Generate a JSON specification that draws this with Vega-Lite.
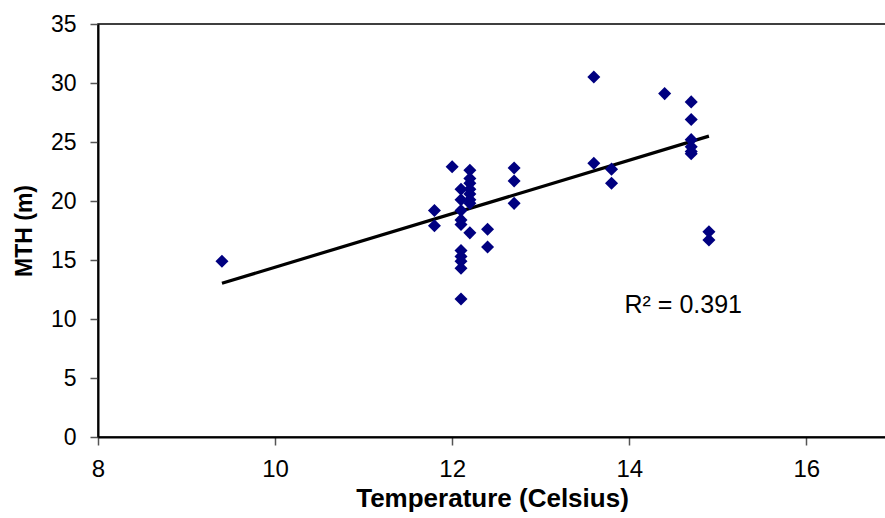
{
  "$schema": "https://vega.github.io/schema/vega-lite/v6.json",
  "autosize": {"type": "none"},
  "width": 788,
  "height": 413,
  "padding": {"left": 98, "top": 24, "right": 0, "bottom": 81},
  "background": "white",
  "config": {
    "font": "Liberation Sans",
    "view": {"stroke": "black", "strokeWidth": 1.5},
    "axis": {
      "grid": false,
      "domainColor": "black",
      "domainWidth": 2,
      "tickColor": "#555555",
      "tickWidth": 1.5,
      "tickSize": 8,
      "labelColor": "black",
      "titleColor": "black",
      "labelFont": "Liberation Sans",
      "titleFont": "Liberation Sans",
      "titleFontWeight": "bold"
    }
  },
  "datasets": {
    "points": [
      {"temp": 9.4, "mth": 14.9},
      {"temp": 11.8, "mth": 19.2},
      {"temp": 11.8, "mth": 17.9},
      {"temp": 12.0, "mth": 22.9},
      {"temp": 12.1, "mth": 21.0},
      {"temp": 12.1, "mth": 20.1},
      {"temp": 12.1, "mth": 19.2},
      {"temp": 12.1, "mth": 18.4},
      {"temp": 12.1, "mth": 18.0},
      {"temp": 12.1, "mth": 15.8},
      {"temp": 12.1, "mth": 15.3},
      {"temp": 12.1, "mth": 14.9},
      {"temp": 12.1, "mth": 14.3},
      {"temp": 12.1, "mth": 11.7},
      {"temp": 12.2, "mth": 22.6},
      {"temp": 12.2, "mth": 21.9},
      {"temp": 12.2, "mth": 21.5},
      {"temp": 12.2, "mth": 21.0},
      {"temp": 12.2, "mth": 20.6},
      {"temp": 12.2, "mth": 20.1},
      {"temp": 12.2, "mth": 19.8},
      {"temp": 12.2, "mth": 17.3},
      {"temp": 12.4, "mth": 17.6},
      {"temp": 12.4, "mth": 16.1},
      {"temp": 12.7, "mth": 22.8},
      {"temp": 12.7, "mth": 21.7},
      {"temp": 12.7, "mth": 19.8},
      {"temp": 13.6, "mth": 30.5},
      {"temp": 13.6, "mth": 23.2},
      {"temp": 13.8, "mth": 22.7},
      {"temp": 13.8, "mth": 21.5},
      {"temp": 14.4, "mth": 29.1},
      {"temp": 14.7, "mth": 28.4},
      {"temp": 14.7, "mth": 26.9},
      {"temp": 14.7, "mth": 25.2},
      {"temp": 14.7, "mth": 24.6},
      {"temp": 14.7, "mth": 24.2},
      {"temp": 14.7, "mth": 24.0},
      {"temp": 14.9, "mth": 17.4},
      {"temp": 14.9, "mth": 16.7}
    ],
    "fit": [
      {"temp": 9.4, "mth": 13.03},
      {"temp": 14.9, "mth": 25.5}
    ],
    "note": [
      {"temp": 13.947, "mth": 10.5, "label": "R² = 0.391"}
    ]
  },
  "layer": [
    {
      "data": {"name": "fit"},
      "mark": {"type": "line", "color": "black", "strokeWidth": 3.2},
      "encoding": {
        "x": {
          "field": "temp", "type": "quantitative",
          "scale": {"domain": [8, 16.9], "nice": false, "zero": false},
          "axis": {
            "values": [8, 10, 12, 14, 16],
            "format": "d",
            "title": "Temperature (Celsius)",
            "labelFontSize": 24,
            "labelPadding": 12,
            "titleFontSize": 26,
            "titlePadding": 4,
            "labelFlush": false,
            "labelOverlap": false
          }
        },
        "y": {
          "field": "mth", "type": "quantitative",
          "scale": {"domain": [0, 35], "nice": false},
          "axis": {
            "values": [0, 5, 10, 15, 20, 25, 30, 35],
            "format": "d",
            "title": "MTH (m)",
            "labelFontSize": 23,
            "labelPadding": 14,
            "titleFontSize": 23,
            "titlePadding": 14,
            "labelFlush": false,
            "labelOverlap": false
          }
        }
      }
    },
    {
      "data": {"name": "points"},
      "mark": {"type": "point", "shape": "diamond", "filled": true, "color": "#000080", "size": 170, "opacity": 1},
      "encoding": {
        "x": {"field": "temp", "type": "quantitative"},
        "y": {"field": "mth", "type": "quantitative"}
      }
    },
    {
      "data": {"name": "note"},
      "mark": {"type": "text", "align": "left", "baseline": "alphabetic", "fontSize": 25, "color": "black", "font": "Liberation Sans"},
      "encoding": {
        "x": {"field": "temp", "type": "quantitative"},
        "y": {"field": "mth", "type": "quantitative"},
        "text": {"field": "label", "type": "nominal"}
      }
    }
  ]
}
